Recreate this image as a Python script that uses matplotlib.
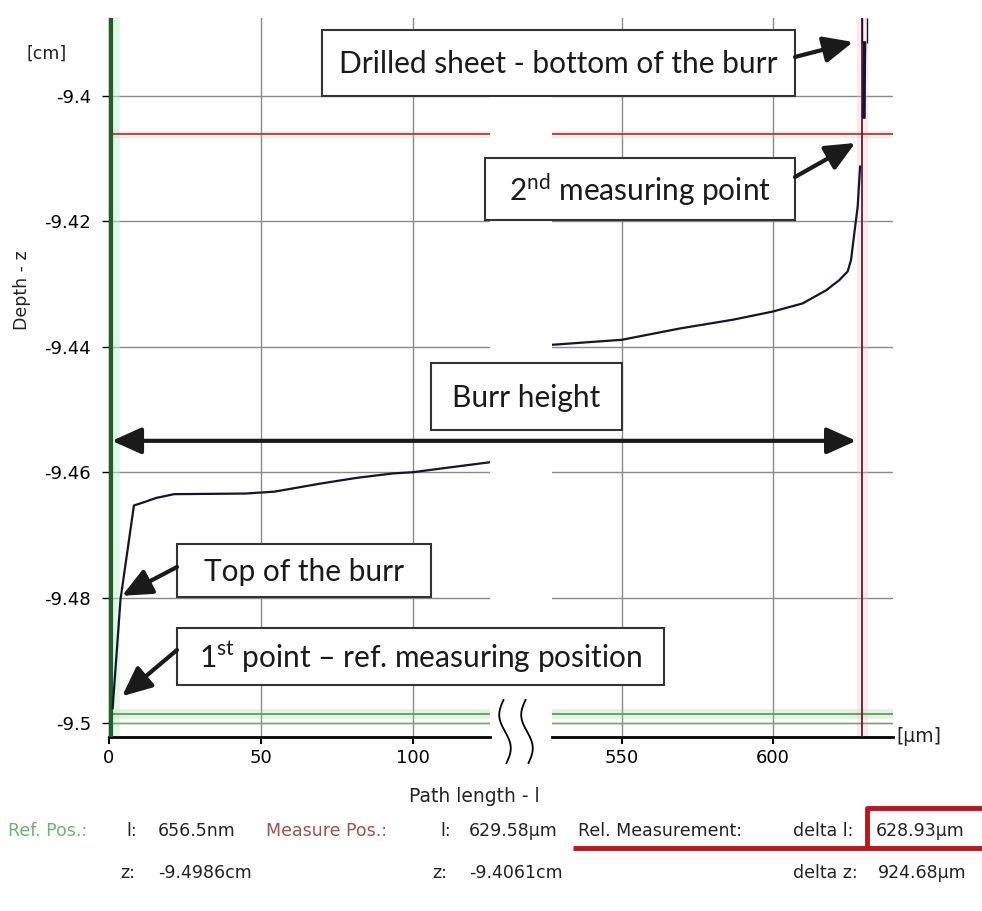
import numpy as np
import matplotlib
matplotlib.use('Agg')
import matplotlib.pyplot as plt
from matplotlib.patches import Rectangle

plt.rcParams['font.family'] = ['DejaVu Sans']
plt.rcParams['mathtext.fontset'] = 'custom'
plt.rcParams['mathtext.rm'] = 'Lato'

# profile of the drilled edge, split into the two measured stretches
left_l = [1.2, 3.8, 8.2, 12.0, 15.5, 21.4, 45.0, 54.4, 69.7, 81.5, 93.3, 100.0, 111.0, 125.5]
left_z = [-9.4976, -9.4802, -9.4653, -9.4647, -9.4641, -9.4635, -9.4634, -9.4631,
          -9.4618, -9.4609, -9.4602, -9.4600, -9.4593, -9.4584]
right_l = [526.8, 549.9, 569.1, 586.7, 599.9, 609.8, 617.6, 621.9, 624.7, 625.8, 626.9, 628.0, 628.8]
right_z = [-9.4397, -9.4389, -9.4371, -9.4357, -9.4344, -9.4331, -9.4310, -9.4294,
           -9.4280, -9.4262, -9.4219, -9.4177, -9.4113]
tip_l = [630.1, 630.2, 630.3]
tip_z = [-9.4034, -9.3950, -9.3916]
edge_l = [629.6, 631.1]
edge_z = [-9.3916, -9.3876]

# cursor positions
ref_l, ref_z = 0.6565, -9.4986
meas_l, meas_z = 629.58, -9.4061

y_ticks = [-9.4, -9.42, -9.44, -9.46, -9.48, -9.5]
y_labels = ['-9.4', '-9.42', '-9.44', '-9.46', '-9.48', '-9.5']
left_xticks = [0, 50, 100]
right_xticks = [550, 600]

W, H = 982, 911
fig = plt.figure(figsize=(W / 100, H / 100), dpi=100)

zlim = (-9.50215, -9.38762)
ax1 = fig.add_axes([109 / W, 1 - 736.7 / H, (490 - 109) / W, (736.7 - 18) / H])
ax2 = fig.add_axes([552 / W, 1 - 736.7 / H, (893 - 552) / W, (736.7 - 18) / H])
ax1.set_xlim(0, 125.3)
ax2.set_xlim(526.8, 639.7)

grid_c = '#8a8a8a'
for ax in (ax1, ax2):
    ax.set_ylim(*zlim)
    ax.set_yticks(y_ticks)
    ax.grid(True, color=grid_c, lw=1)
    ax.set_axisbelow(True)
    for s in ('top', 'right'):
        ax.spines[s].set_visible(False)
    ax.spines['bottom'].set_linewidth(2)
    ax.tick_params(axis='x', direction='out', length=5, width=1.5, labelsize=13, pad=4)
    ax.patch.set_alpha(0)
    # reference cursor (green) and measuring cursor (red)
    ax.axhline(ref_z, color='#8fd08f', lw=7, alpha=0.25, zorder=1)
    ax.axhline(-9.5, color='#7f9f7f', lw=1, zorder=2)
    ax.axhline(ref_z, color='#4f9a4f', lw=1.2, zorder=2)
    ax.axhline(meas_z, color='#f0b0b0', lw=5, alpha=0.3, zorder=1)
    ax.axhline(meas_z, color='#8b3a3a', lw=1.2, zorder=2)

ax1.set_xticks(left_xticks)
ax1.set_yticklabels(y_labels)
ax1.tick_params(axis='y', direction='out', length=5, width=1, labelsize=13, pad=8)
ax1.spines['left'].set_linewidth(1)

ax2.set_xticks(right_xticks)
ax2.tick_params(axis='y', left=False, labelleft=False)
ax2.spines['left'].set_visible(False)

ax1.axvline(ref_l, color='#c8ecc8', lw=12, alpha=0.5, zorder=1)
ax1.axvline(ref_l, color='#1f5f2a', lw=3, zorder=3)
ax2.axvline(meas_l, color='#f4c4cc', lw=8, alpha=0.35, zorder=1)
ax2.axvline(meas_l, color='#5c1f2e', lw=1.3, zorder=3)

curve_c = '#14142e'
ax1.plot(left_l, left_z, color=curve_c, lw=1.6, zorder=4)
ax2.plot(right_l, right_z, color=curve_c, lw=1.6, zorder=4)
ax2.plot(tip_l, tip_z, color=curve_c, lw=2.5, zorder=4)
ax2.vlines(edge_l, edge_z[0], edge_z[1], color=curve_c, lw=1, zorder=4)

# overlay in pixel units for labels, boxes and the axis break
ov = fig.add_axes([0, 0, 1, 1], zorder=10)
ov.set_xlim(0, W)
ov.set_ylim(H, 0)
ov.axis('off')
ov.patch.set_alpha(0)

t = np.linspace(0, 1, 60)
for xc in (505, 527):
    ov.plot(xc - 5 * np.sin(2 * np.pi * t) + 3 * (t - 0.5), 700 + 63 * t, color='black', lw=1.3)

small = dict(family=['DejaVu Sans'], fontsize=12.5, color='#222222')
ov.text(47, 54, '[cm]', ha='center', va='center', **small)
ov.text(896, 736, '[µm]', ha='left', va='center', fontsize=13.5, color='#222222')
ov.text(22, 290, 'Depth - z', rotation=90, ha='center', va='center', **small)
ov.text(474, 797, 'Path length - l', ha='center', va='center', fontsize=13.5, color='#222222')

box_font = dict(family=['Lato', 'DejaVu Sans'], fontsize=21.5, color='#1a1a1a')
boxes = [
    (322, 30, 795, 96, 'Drilled sheet - bottom of the burr'),
    (485, 158, 795, 220, '2$^{\\mathrm{nd}}$ measuring point'),
    (431, 363, 622, 430, 'Burr height'),
    (177, 544, 431, 597, 'Top of the burr'),
    (177, 628, 664, 685, '1$^{\\mathrm{st}}$ point \u2013 ref. measuring position'),
]
for x0, y0, x1, y1, label in boxes:
    ov.add_patch(Rectangle((x0, y0), x1 - x0, y1 - y0, facecolor='white',
                           edgecolor='#333333', lw=1.5))
    ov.text((x0 + x1) / 2, (y0 + y1) / 2 + 1, label, ha='center', va='center', **box_font)

arrow = dict(arrowstyle='-|>,head_length=1.0,head_width=0.45', lw=3, color='#1a1a1a',
             mutation_scale=18, shrinkA=0, shrinkB=0)
pointers = [
    (ax2, (626.5, -9.39144), (795, 57)),
    (ax2, (627.2, -9.40754), (795, 177)),
    (ax1, (4.3, -9.4797), (177, 567)),
    (ax1, (4.3, -9.4957), (177, 650)),
]
for ax, xy, xytext in pointers:
    ov.annotate('', xy=xy, xycoords=ax.transData, xytext=xytext, textcoords=ov.transData,
                arrowprops=arrow, annotation_clip=False)

burr_z = -9.455
ov.annotate('', xy=(627.5, burr_z), xycoords=ax2.transData,
            xytext=(ref_l + 0.3, burr_z), textcoords=ax1.transData,
            arrowprops=dict(arrow, arrowstyle='<|-|>,head_length=1.0,head_width=0.45'),
            annotation_clip=False)

# readout of the two cursors
info = dict(family=['DejaVu Sans'], fontsize=12.5, va='center')
dark = '#222222'
row1 = [(8, 'Ref. Pos.:', '#6fb36f'), (126, 'l:', dark), (158, '656.5nm', dark),
        (266, 'Measure Pos.:', '#a0504a'), (440, 'l:', dark), (469, '629.58µm', dark),
        (578, 'Rel. Measurement:', dark), (793, 'delta l:', dark), (876, '628.93µm', dark)]
row2 = [(120, 'z:', dark), (158, '-9.4986cm', dark), (432, 'z:', dark),
        (469, '-9.4061cm', dark), (793, 'delta z:', dark), (878, '924.68µm', dark)]
for x, s, c in row1:
    ov.text(x, 831, s, color=c, **info)
for x, s, c in row2:
    ov.text(x, 873, s, color=c, **info)

red = '#c0141c'
ov.plot([573, 982], [848, 848], color=red, lw=3.5, solid_capstyle='butt')
ov.plot([867, 867, 982], [848, 808, 808], color=red, lw=3.5, solid_capstyle='butt')

fig.savefig('out.png', dpi=100)
